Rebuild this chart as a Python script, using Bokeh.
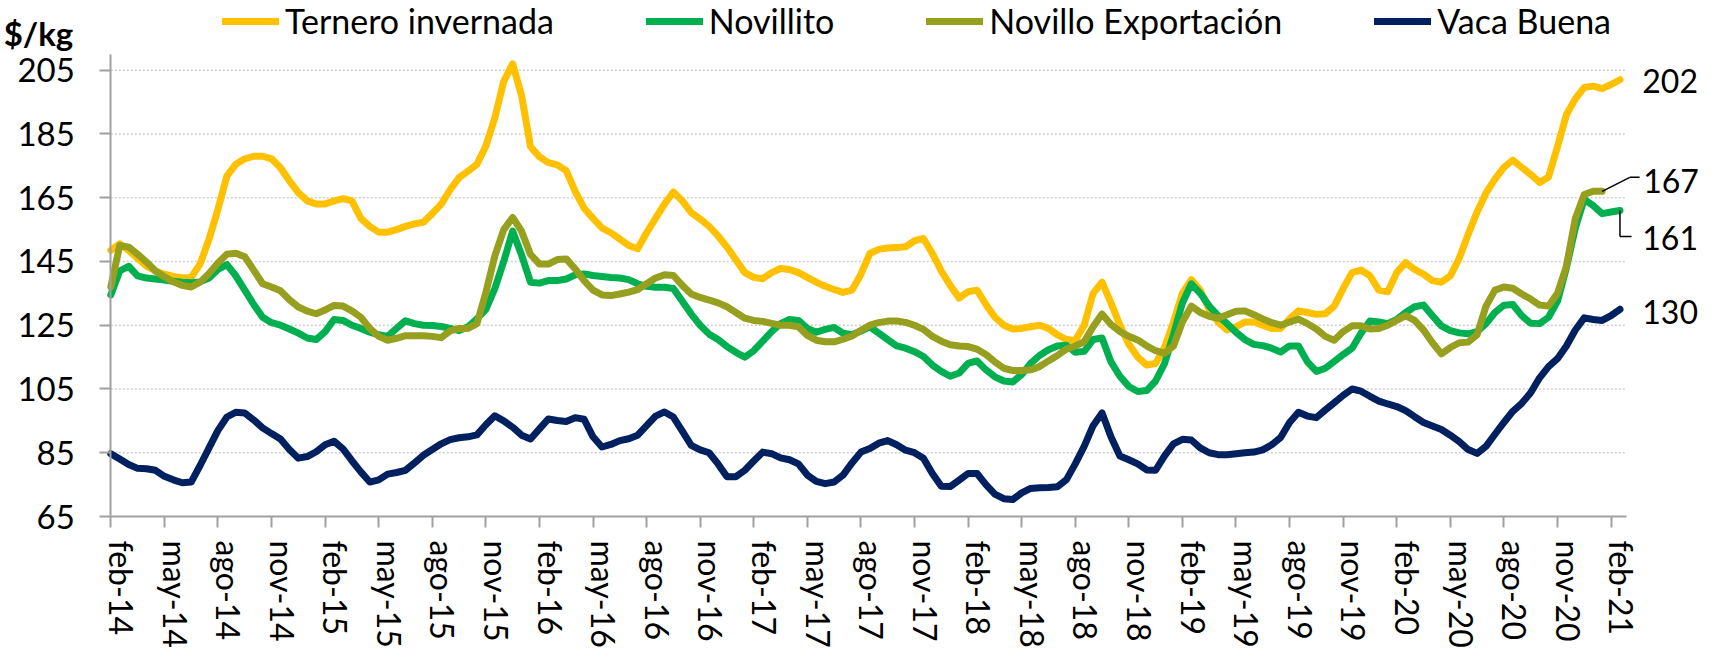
from bokeh.plotting import figure
from bokeh.models import (FixedTicker, LinearAxis, Legend, LegendItem, Label,
                          Arrow, Range1d, ColumnDataSource)
from bokeh.embed import file_html
from bokeh.resources import INLINE

# ---------------- data ----------------
# x position in months since feb-14 (half-month steps)
months = [i * 0.5 for i in range(170)]

tick_months = [0, 3, 6, 9, 12, 15, 18, 21, 24, 27, 30, 33, 36, 39, 42, 45, 48,
               51, 54, 57, 60, 63, 66, 69, 72, 75, 78, 81, 84]
tick_labels = ["feb-14", "may-14", "ago-14", "nov-14", "feb-15", "may-15", "ago-15",
               "nov-15", "feb-16", "may-16", "ago-16", "nov-16", "feb-17", "may-17",
               "ago-17", "nov-17", "feb-18", "may-18", "ago-18", "nov-18", "feb-19",
               "may-19", "ago-19", "nov-19", "feb-20", "may-20", "ago-20", "nov-20",
               "feb-21"]
y_ticks = [65, 85, 105, 125, 145, 165, 185, 205]

ternero = [
    148.5, 150.5, 148.5, 146, 143.5, 142, 141, 140.3, 139.8, 140,
    144.2, 152, 161.4, 171.8, 175.5, 177.2, 178, 178, 177.2, 174.4,
    170.3, 166.6, 164, 163, 163, 164, 164.7, 164, 158.5, 156,
    154.2, 154.2, 155, 156, 156.8, 157.3, 160, 163, 167.5, 171.3,
    173.3, 175.5, 181.2, 190, 201.5, 207, 197, 181, 177.8, 176,
    175.3, 173.5, 167, 161.7, 158.5, 155.5, 154, 152, 150, 149,
    154, 158.5, 163, 166.8, 164, 160.3, 158.3, 156, 153, 149.5,
    145.5, 141.5, 140, 139.6, 141.5, 142.8, 142.5, 141.5, 140, 138.5,
    137.2, 136.2, 135.3, 136, 141, 147.5, 148.8, 149.2, 149.4, 149.6,
    151.5, 152.2, 147.5, 142, 137.5, 133.5, 135.5, 136, 131.5, 127.5,
    125, 123.8, 124, 124.5, 125, 124, 122, 120.5, 120.2, 125,
    135, 138.5, 132, 125, 119, 115, 112.5, 113, 118, 126,
    135, 139.3, 136, 130, 126, 123.5, 124.5, 126, 126, 125,
    124, 124, 127, 129.5, 129, 128.4, 128.6, 131, 136.5, 141.5,
    142.3, 140.5, 136, 135.5, 141.5, 144.7, 142.5, 141, 139, 138.5,
    140.5, 146, 153.5, 160.5, 166.5, 170.8, 174.5, 176.8, 174.5, 172.3,
    169.8, 171.5, 181, 191, 196, 199.6, 200, 199.2, 200.5, 202]

novillito = [
    134.5, 142, 143.5, 140.5, 139.8, 139.5, 139.2, 138.8, 138.5, 138.3,
    138.6, 139.8, 142.5, 144, 140.5, 136, 131.5, 127.5, 125.8, 125,
    123.8, 122.5, 121, 120.5, 123, 126.8, 126.5, 125, 124, 122.8,
    122, 121.5, 124, 126.4, 125.5, 125, 124.9, 124.6, 124, 123.3,
    124.5, 127, 130, 136.5, 145, 154.5, 147, 138.5, 138.2, 139,
    139, 139.5, 140.8, 141.1, 140.6, 140.3, 140, 139.8, 139.3, 138,
    137.2, 136.9, 136.9, 136.5, 132.5, 128.5, 125, 122.2, 120.5, 118.3,
    116.5, 115, 117, 120, 123, 125.5, 126.8, 126.5, 124, 122.8,
    123.7, 124.3, 122.5, 122, 123.2, 124.5, 122.5, 120.5, 118.5, 117.8,
    116.7, 115.2, 112.5, 110.5, 109, 110, 113, 113.8, 111, 108.8,
    107.5, 107.2, 109.5, 113, 115.5, 117.3, 118.5, 118.7, 116.5, 116.8,
    120.5, 121, 113.5, 109, 105.8, 104.2, 104.5, 107.5, 113, 122,
    132, 138, 135, 131, 128, 125.5, 122.8, 120.5, 119, 118.6,
    117.8, 116.6, 118.5, 118.5, 113.5, 110.5, 111.5, 113.6, 115.8, 117.8,
    122.5, 126.3, 126, 125.5, 126.8, 129, 130.8, 131.3, 128, 124.8,
    123.3, 122.6, 122.3, 123, 125.5, 129, 131.3, 131.5, 128, 125.6,
    125.5, 127.5, 132.5, 143, 155.5, 164.5, 162.5, 160, 160.5, 161]

novillo_exp = [
    137, 150, 149.5, 147.3, 144.8, 142, 140.2, 138.6, 137.5, 137,
    138.5, 141.2, 144.5, 147.3, 147.6, 146.5, 142.3, 138, 137, 135.8,
    133, 130.7, 129.4, 128.6, 129.8, 131.2, 131, 129.5, 127.5, 124,
    121.5, 120.3, 120.9, 121.7, 121.7, 121.7, 121.5, 121.1, 123.2, 124,
    124, 125.5, 135.3, 146.7, 155, 158.8, 154.5, 147.2, 144.2, 144.2,
    145.6, 145.8, 142.7, 139, 136, 134.5, 134.3, 134.8, 135.4, 136.2,
    138, 139.8, 140.8, 140.6, 137.5, 134.8, 133.7, 132.9, 132, 130.8,
    129, 127.2, 126.5, 126.2, 125.6, 125, 125, 124.5, 121.8, 120.3,
    119.8, 119.8, 120.6, 121.6, 123.4, 125, 125.8, 126.3, 126.3, 125.9,
    125, 123.7, 121.5, 120, 118.9, 118.5, 118.3, 117.5, 115.8, 113.5,
    111.5, 110.8, 110.8, 111, 112, 113.8, 115.5, 117.5, 118.5, 119.8,
    124.5, 128.5, 125.2, 123, 121.5, 120.4, 118.5, 117, 116.2, 118.5,
    126, 131, 129, 127.8, 127.2, 128.3, 129.4, 129.5, 128.3, 127,
    125.8, 125, 126, 126.9, 125.5, 123.8, 121.5, 120.3, 123, 124.8,
    124.8, 123.8, 124, 125, 126.5, 128, 126.5, 123.5, 119.5, 116,
    118, 119.5, 119.7, 122, 131, 136, 137, 136.6, 134.8, 133.2,
    131.3, 131, 135, 143.5, 158.5, 166, 167, 167, float("nan"), float("nan")]

vaca_buena = [
    84.7, 83, 81.3, 80.1, 80, 79.5, 77.6, 76.5, 75.6, 75.8,
    81, 86.5, 92, 96.2, 97.7, 97.5, 95.3, 92.8, 91, 89.3,
    86, 83.3, 83.8, 85.3, 87.5, 88.6, 86.2, 82.5, 79, 75.8,
    76.5, 78.3, 78.8, 79.5, 81.8, 84.2, 86, 87.8, 89.1, 89.7,
    90, 90.6, 93.8, 96.6, 95, 93, 90.5, 89.3, 92.5, 95.6,
    95.1, 94.8, 96, 95.5, 90, 86.8, 87.6, 88.8, 89.4, 90.5,
    93.5, 96.5, 97.8, 96.2, 91.8, 87.3, 85.9, 85, 81.5, 77.5,
    77.5, 79.5, 82.4, 85.2, 84.7, 83.4, 82.8, 81.5, 78, 76,
    75.3, 75.8, 78, 81.8, 85.2, 86.3, 88, 88.8, 87.5, 85.8,
    85, 83.3, 78.5, 74.5, 74.4, 76.4, 78.5, 78.5, 75, 72,
    70.6, 70.3, 72.4, 73.8, 74, 74.1, 74.3, 76.5, 81.5, 87,
    93.5, 97.5, 90, 84, 82.8, 81.5, 79.6, 79.5, 84, 87.8,
    89.2, 89, 86.5, 85, 84.4, 84.4, 84.7, 85, 85.2, 85.9,
    87.5, 89.8, 94.5, 97.7, 96.5, 96, 98.4, 100.7, 103, 105,
    104.3, 102.7, 101.2, 100.3, 99.5, 98.2, 96.3, 94.5, 93.4, 92.3,
    90.5, 88.5, 86, 84.8, 87, 90.8, 94.5, 98, 100.5, 103.8,
    108.5, 112, 114.5, 118.5, 123.5, 127.3, 126.8, 126.5, 128, 130]

series_names = ["Ternero invernada", "Novillito", "Novillo Exportación", "Vaca Buena"]
series_colors = ["#FFC000", "#00B050", "#979F1F", "#002060"]

# ---------------- layout constants ----------------
FONT = "Lato"
PX_MONTH = 17.86      # pixels per month
PX_UNIT = 3.188       # pixels per $/kg
AXIS_LEFT_PX = 110.3  # canvas left edge -> y axis
AXIS_TOP_PX = 516     # canvas top edge -> x axis
W, H = 1700, 653
x_start = -AXIS_LEFT_PX / PX_MONTH
x_end = x_start + W / PX_MONTH
y_base = y_ticks[0]
y_start = y_base - (H - AXIS_TOP_PX) / PX_UNIT
y_end = y_base + AXIS_TOP_PX / PX_UNIT
x_axis_end = 84.85
y_axis_top = 210

p = figure(width=W, height=H, output_backend="svg", toolbar_location=None,
           x_range=Range1d(x_start, x_end), y_range=Range1d(y_start, y_end),
           min_border=0)
p.outline_line_color = None
p.background_fill_color = "white"
p.border_fill_color = "white"
p.xgrid.visible = False
p.ygrid.visible = False

# dotted horizontal grid lines limited to the plotting area
grid_y = y_ticks[1:]
p.segment(x0=[0] * len(grid_y), x1=[x_axis_end] * len(grid_y), y0=grid_y, y1=grid_y,
          line_color="#cfcfcf", line_dash="2 2", line_width=1.5)

src = ColumnDataSource(dict(m=months, t=ternero, n=novillito, e=novillo_exp, v=vaca_buena))
renderers = []
for col, color in zip(["t", "n", "e", "v"], series_colors):
    r = p.line("m", col, source=src, line_color=color, line_width=7,
               line_join="round", line_cap="round")
    renderers.append(r)

# y axis pinned at x = 0
ya = p.yaxis[0]
ya.fixed_location = 0
ya.bounds = (y_base, y_axis_top)
ya.ticker = FixedTicker(ticks=y_ticks)
ya.axis_line_color = "#a0a0a0"
ya.axis_line_width = 2
ya.major_tick_line_color = "#a0a0a0"
ya.major_tick_line_width = 2
ya.major_tick_in = 0
ya.major_tick_out = 11
ya.minor_tick_line_color = None
ya.major_label_standoff = 25
ya.major_label_text_font = FONT
ya.major_label_text_font_size = "33px"
ya.major_label_text_color = "black"

# x axis (line and tick marks) pinned at y = 65
xa = p.xaxis[0]
xa.fixed_location = y_base
xa.bounds = (0, x_axis_end)
xa.ticker = FixedTicker(ticks=tick_months)
xa.axis_line_color = "#a0a0a0"
xa.axis_line_width = 2
xa.major_tick_line_color = "#a0a0a0"
xa.major_tick_line_width = 2
xa.major_tick_in = 0
xa.major_tick_out = 11
xa.minor_tick_line_color = None
xa.major_label_text_color = None
xa.major_label_text_font_size = "1px"
xa.major_label_standoff = 0

# month labels, set slightly right of the tick marks as in the original
label_pos = [t + 0.6 for t in tick_months]
xl = LinearAxis(ticker=FixedTicker(ticks=label_pos), fixed_location=y_base,
                major_label_overrides={pos: lab for pos, lab in zip(label_pos, tick_labels)},
                axis_line_color=None, major_tick_line_color=None,
                minor_tick_line_color=None, major_tick_out=0, major_tick_in=0,
                major_label_orientation="vertical", major_label_standoff=24,
                major_label_text_font=FONT, major_label_text_font_size="32px",
                major_label_text_color="black")
p.add_layout(xl, "below")

# legend across the top
legend = Legend(items=[LegendItem(label=nm, renderers=[r])
                       for nm, r in zip(series_names, renderers)],
                orientation="horizontal", location=(222, 612),
                padding=0, margin=0, spacing=92, glyph_width=57, glyph_height=20,
                label_standoff=6, label_text_font=FONT, label_text_font_size="34px",
                label_text_color="black", border_line_color=None,
                background_fill_alpha=0)
p.add_layout(legend, "center")

# unit label
p.add_layout(Label(x=-6.0, y=216.6, text="$/kg", text_font=FONT,
                   text_font_style="bold", text_font_size="33px",
                   text_color="black", text_baseline="alphabetic"))

# end value labels
valid_e = [v for v in novillo_exp if v == v]
last_t = ternero[-1]
last_n = novillito[-1]
last_e = valid_e[-1]
last_v = vaca_buena[-1]
end_x = months[-1]
end_x_e = months[len(valid_e) - 1]

for txt, xx, yy in [(f"{round(last_t)}", 85.75, last_t - 0.4),
                    (f"{round(last_e)}", 85.8, last_e + 3.3),
                    (f"{round(last_n)}", 85.75, last_n - 8.5),
                    (f"{round(last_v)}", 85.75, last_v - 1.0)]:
    p.add_layout(Label(x=xx, y=yy, text=txt, text_font=FONT,
                       text_font_size="32px", text_color="black",
                       text_baseline="middle", text_align="left"))

# leader lines
for (x0, y0, x1, y1) in [(end_x_e, last_e, 85.05, last_e + 4.4),
                         (85.05, last_e + 4.4, 85.6, last_e + 4.4),
                         (end_x, last_n, end_x, last_n - 8.2),
                         (end_x, last_n - 8.2, 85.15, last_n - 8.2)]:
    p.add_layout(Arrow(x_start=x0, y_start=y0, x_end=x1, y_end=y1, end=None,
                       line_color="black", line_width=1.5))

open("out.html", "w").write(file_html(p, INLINE))
